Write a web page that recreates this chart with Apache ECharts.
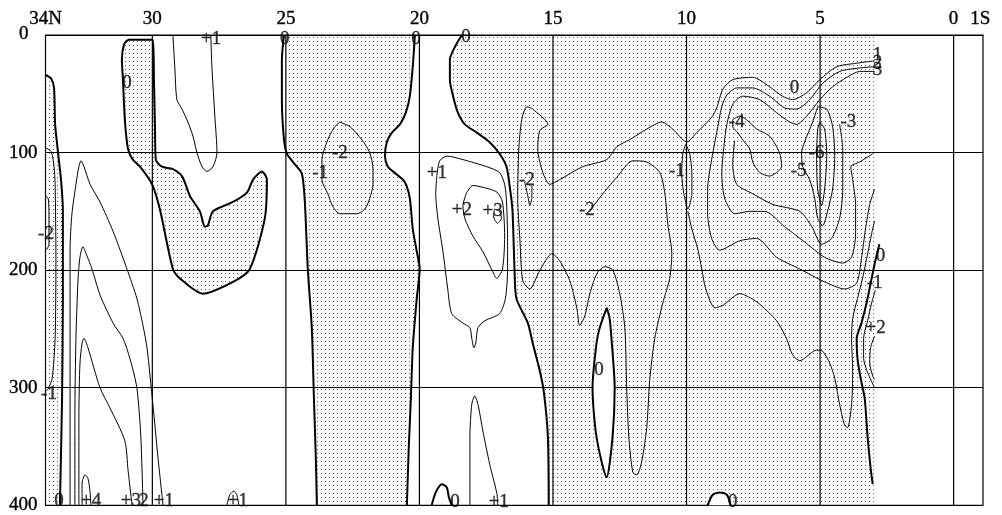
<!DOCTYPE html>
<html><head><meta charset="utf-8">
<script src="https://cdn.jsdelivr.net/npm/echarts@6/dist/echarts.min.js"></script>
<style>html,body{margin:0;padding:0;background:#fff}#c{width:1002px;height:515px}</style>
</head><body><div id="c"></div>
<script>
// axis ticks
const latTicks = [34,30,25,20,15,10,5,0,-1];
const latTickLabels = ['34N','30','25','20','15','10','5','0','1S'];
const latGrid = [30,25,20,15,10,5,0];
const depthTicks = [0,100,200,300,400];

// contour lines: [lat, depth(m)]
const c0_left = [[34.0,34],[33.79,37],[33.68,45],[33.64,76],[33.53,100],[33.42,123],[33.35,148],[33.35,224],[33.38,309],[33.46,400]];
const cm1_left = [[34,96],[33.79,99],[33.68,112],[33.64,127],[33.61,190],[33.64,258],[33.75,292],[33.90,301],[34,303]];
const cm2_left = [[34,137],[33.90,139],[33.87,152],[33.87,178],[33.94,182],[34,183]];
const cp1_left = [[33.08,400],[33.08,325],[33.08,224],[33.08,182],[33.01,152],[32.86,127],[32.75,112],[32.67,107],[32.56,112],[32.33,127],[31.96,142],[31.47,167],[30.95,199],[30.58,224],[30.35,247],[30.20,266],[29.98,314],[29.79,359],[29.60,400]];
const cp2_left = [[32.90,400],[32.90,325],[32.86,258],[32.78,207],[32.71,189],[32.60,180],[32.48,186],[32.26,199],[31.96,221],[31.47,245],[31.10,258],[30.84,275],[30.58,300],[30.43,342],[30.35,400]];
const cp3_left = [[32.75,400],[32.75,325],[32.71,279],[32.63,262],[32.56,258],[32.41,266],[31.96,300],[31.59,317],[31.03,345],[30.91,370],[30.76,400]];
const cp4_left = [[32.63,400],[32.63,381],[32.52,374],[32.41,377],[32.33,389],[32.30,400]];
const c0_31 = [[30.91,4],[29.98,4],[29.94,38],[29.90,80],[29.87,106],[29.64,112],[29.23,114],[28.89,120],[28.59,137],[28.22,150],[28.03,163],[27.92,162],[27.73,150],[26.98,142],[26.46,134],[26.23,123],[25.90,116],[25.71,123],[25.79,156],[26.35,199],[26.98,210],[28.11,220],[28.97,207],[29.23,199],[29.72,148],[30.01,127],[30.46,112],[30.73,106],[30.91,97],[31.03,72],[31.10,38],[31.14,21],[31.06,8],[30.91,4]];
const cp1_top = [[29.23,0],[29.16,27],[29.08,55],[28.89,63],[28.67,74],[28.48,86],[28.33,100],[28.14,112],[27.96,116],[27.73,112],[27.58,100],[27.66,69],[27.77,27],[27.81,0]];
const cp1_bot = [[27.21,400],[27.10,391],[26.95,388],[26.84,391],[26.76,400]];
const c0_25 = [[25.07,0],[25.15,21],[25.15,55],[25.07,89],[24.96,101],[24.66,110],[24.40,118],[24.29,142],[24.18,199],[24.03,249],[23.95,309],[23.88,359],[23.84,400]];
const cm2_22 = [[22.98,74],[22.60,78],[22.16,89],[21.86,100],[21.74,114],[21.74,127],[21.86,139],[22.04,148],[22.34,152],[22.98,152],[23.24,146],[23.43,135],[23.65,123],[23.65,106],[23.43,89],[23.20,79],[22.98,74]];
const c0_20 = [[20.17,0],[20.25,27],[20.36,52],[20.51,66],[20.73,76],[21.03,83],[21.22,91],[21.29,103],[21.18,112],[20.88,118],[20.55,125],[20.36,139],[20.25,165],[20.10,184],[19.99,199],[20.10,224],[20.25,266],[20.32,309],[20.40,351],[20.47,400]];
const c0_18 = [[18.41,0],[18.67,10],[18.86,21],[18.86,38],[18.74,52],[18.56,66],[18.30,76],[17.85,83],[17.38,91],[17.00,101],[16.74,112],[16.63,127],[16.52,148],[16.44,199],[16.37,224],[15.94,245],[15.76,262],[15.49,286],[15.34,304],[15.19,342],[15.16,400]];
const cp1_19 = [[19.35,120],[19.24,107],[18.97,103],[18.37,106],[17.48,112],[17.0,117],[16.81,127],[16.74,142],[16.70,173],[16.70,199],[16.78,224],[17.0,237],[17.55,243],[17.81,249],[17.89,262],[17.96,266],[18.04,258],[18.11,249],[18.37,245],[18.79,237],[18.94,216],[19.12,184],[19.31,156],[19.39,135],[19.35,120]];
const cp2_19 = [[18.23,134],[18.0,128],[17.38,131],[17.08,134],[16.89,142],[16.81,171],[16.89,199],[17.11,207],[17.26,201],[17.63,184],[18.0,171],[18.30,156],[18.37,145],[18.23,134]];
const cp3_19 = [[17.19,148],[17.0,150],[16.93,156],[17.08,160],[17.23,154],[17.19,148]];
const cp1_17b = [[18.11,400],[18.11,342],[18.04,314],[17.93,307],[17.81,314],[17.63,336],[17.37,365],[17.10,390],[17.07,400]];
const c0_19b = [[19.54,400],[19.39,389],[19.16,382],[18.97,385],[18.90,393],[18.79,400]];
const cm2_16 = [[16.06,125],[15.94,137],[15.87,145],[15.79,138],[15.79,128]];
const cm1_long = [[13.62,150],[13.44,144],[13.06,133],[12.61,121],[12.01,107],[11.49,108],[11.00,117],[10.81,135],[10.70,161],[10.55,186],[10.63,207],[10.89,228],[11.19,258],[11.38,294],[11.49,334],[11.68,363],[11.86,374],[12.01,372],[12.16,342],[12.24,300],[12.31,249],[12.50,220],[12.76,200],[13.06,197],[13.36,203],[13.62,220],[13.81,239],[14.0,247],[14.11,232],[14.37,209],[14.75,192],[15.04,186],[15.49,200],[15.87,216],[16.13,209],[16.24,173],[16.32,139],[16.28,97],[16.17,72],[15.98,61],[15.76,63],[15.19,76],[15.49,81],[15.57,97],[15.38,117],[15.12,127],[14.75,123],[13.89,112],[12.99,106],[12.61,95],[12.13,89],[11.49,80],[10.93,74],[10.52,80],[9.99,91],[9.62,83],[9.06,70],[8.87,62],[8.64,46],[8.27,38],[7.52,36],[6.89,44],[6.41,52],[6.03,55],[5.50,49],[5.01,38],[4.38,27],[3.63,24],[2.96,22]];
const c0_13 = [[12.99,232],[13.25,249],[13.37,262],[13.52,300],[13.37,342],[12.99,376],[12.77,342],[12.69,300],[12.81,258],[12.88,241],[12.99,232]];
const cm1_10 = [[10.03,93],[9.88,101],[9.80,118],[9.80,135],[9.95,148],[10.10,135],[10.18,118],[10.14,101],[10.03,93]];
const cm2_ring = [[2.96,27],[3.52,28],[4.27,31],[4.90,41],[5.39,55],[5.88,63],[6.33,62],[6.89,52],[7.52,45],[8.12,45],[8.49,51],[8.68,61],[8.87,83],[9.06,106],[9.21,131],[9.21,152],[9.06,173],[8.76,183],[8.01,175],[7.37,173],[6.63,189],[5.76,199],[4.83,210],[4.08,216],[3.63,211],[3.45,190],[3.30,165],[3.14,144],[2.96,131]];
const cm3_ring = [[2.96,31],[3.52,31],[4.00,36],[4.53,44],[5.01,55],[5.50,69],[5.88,76],[6.14,74],[6.63,66],[7.26,55],[7.90,52],[8.27,59],[8.49,76],[8.61,97],[8.68,118],[8.57,139],[8.20,152],[7.64,150],[7.07,150],[6.33,163],[5.58,176],[4.83,189],[4.15,194],[3.82,189],[3.67,169],[3.67,144],[3.78,123],[3.85,112],[3.52,108],[3.03,101]];
const cm4_ring = [[4.27,76],[4.15,97],[4.15,131],[4.27,156],[4.57,173],[4.94,178],[5.31,163],[5.76,150],[6.78,144],[7.52,135],[8.12,127],[8.27,110],[8.20,90]];
const cm4 = [[8.27,72],[8.01,69],[7.75,72],[7.37,80],[6.89,86],[6.52,100],[6.44,112],[6.63,117],[6.89,120],[7.26,117],[7.52,108],[7.63,97],[7.90,89],[8.08,83],[8.27,78],[8.27,72]];
const cm5 = [[5.09,61],[4.75,63],[4.53,78],[4.45,103],[4.53,131],[4.72,150],[4.90,162],[5.09,156],[5.20,139],[5.39,123],[5.65,112],[5.69,100],[5.58,91],[5.28,74],[5.09,61]];
const cm6 = [[5.01,74],[4.83,80],[4.75,103],[4.83,131],[4.94,145],[5.09,131],[5.13,103],[5.09,80],[5.01,74]];
const cm1_low = [[9.95,150],[9.80,165],[9.58,182],[9.43,199],[9.28,216],[8.94,232],[8.64,230],[8.01,220],[7.37,227],[6.63,243],[6.26,258],[6.03,272],[5.76,277],[5.13,268],[4.90,269],[4.64,279],[4.45,292],[4.27,314],[4.08,332],[3.97,334],[3.82,314],[3.78,286],[3.82,258],[3.78,241],[3.60,224],[3.41,207],[3.22,186],[3.07,169],[2.96,158]];
const c0_east = [[2.78,178],[2.93,192],[3.07,207],[3.26,228],[3.45,245],[3.63,258],[3.60,275],[3.48,292],[3.33,309],[3.22,342],[3.11,368],[3.03,382]];
const cp1_east = [[2.93,217],[3.07,228],[3.22,243],[3.37,258],[3.37,275],[3.22,287],[2.96,300]];
const cp2_east = [[2.96,256],[3.11,266],[3.14,279],[3.03,290],[2.96,293]];
const c0_9b = [[9.21,400],[9.02,391],[8.76,389],[8.49,391],[8.35,400]];

const thickLines = [c0_left,c0_31,c0_25,c0_20,c0_18,c0_19b,c0_13,c0_east,c0_9b];
const thinLines = [cm1_left,cm2_left,cp1_left,cp2_left,cp3_left,cp4_left,cp1_top,cp1_bot,cm2_22,cp1_19,cp2_19,cp3_19,cp1_17b,cm2_16,cm1_long,cm1_10,cm2_ring,cm3_ring,cm4_ring,cm4,cm5,cm6,cm1_low,cp1_east,cp2_east];

// stippled (negative) areas
const shadeLeft = [[34,34]].concat(c0_left, [[34,400]]);
const shade31 = c0_31;
const shadeMid = c0_25.concat(c0_20.slice().reverse());
const shadeEast = c0_18.concat([[2.96,400],[2.96,0]]);
const whiteHoles = [c0_13, c0_9b];

// contour labels [lat, depth, text]
const labels = [
  [30.95,41,'0'],[27.8,3,'+1'],[25.04,3,'0'],[20.13,3,'0'],[18.26,2,'0'],
  [33.98,169,'-2'],[33.87,305,'-1'],[33.49,396,'0'],[32.29,396,'+4'],[30.8,396,'+3'],
  [30.31,396,'2'],[29.57,396,'+1'],[26.8,396,'+1'],[18.67,397,'0'],[17.03,397,'+1'],
  [8.27,397,'0'],[13.28,285,'0'],[22.98,100,'-2'],[23.72,117,'-1'],[19.35,117,'+1'],
  [18.41,149,'+2'],[17.26,150,'+3'],[15.98,123,'-2'],[13.73,149,'-2'],[10.36,116,'-1'],
  [8.12,74,'-4'],[5.96,45,'0'],[3.94,74,'-3'],[5.13,100,'-6'],[5.8,116,'-5'],
  [2.85,17,'1'],[2.85,24,'2'],[2.85,30,'3'],[2.74,188,'0'],[2.96,211,'-1'],[2.92,249,'+2']
];

const FONT = 'Liberation Serif';
const TXT = {fontFamily:FONT, fontSize:19, color:'#000', textBorderColor:'#000', textBorderWidth:0.35};
const pat = document.createElement('canvas');
pat.width = 4; pat.height = 4;
const pg = pat.getContext('2d');
pg.fillStyle = '#555';
pg.fillRect(1,1,1,1);

function polySeries(poly, fill, z) {
  return {type:'custom', coordinateSystem:'cartesian2d', silent:true, z:z, animation:false,
    data:[[poly[0][0], poly[0][1]]],
    renderItem:(p, api) => ({type:'polygon', shape:{points: poly.map(pt => api.coord(pt))}, style:{fill:fill, stroke:null}})};
}
function lineSeries(pts, w) {
  return {type:'line', data:pts, showSymbol:false, symbol:'none', smooth:0.25, silent:true, z:3, animation:false,
    lineStyle:{color:'#000', width:w}};
}

const series = [];
[shadeLeft, shade31, shadeMid, shadeEast].forEach(p => series.push(polySeries(p, {image: pat, repeat:'repeat'}, 1)));
whiteHoles.forEach(p => series.push(polySeries(p, '#fff', 2)));
latGrid.forEach(v => series.push({type:'line', data:[[v,0],[v,400]], showSymbol:false, symbol:'none', silent:true, z:4, animation:false, lineStyle:{color:'#000', width:1.2}}));
thickLines.forEach(l => series.push(lineSeries(l, 2)));
thinLines.forEach(l => series.push(lineSeries(l, 1)));
series.push({type:'scatter', symbolSize:0, silent:true, z:6, animation:false,
  data: labels.map(l => ({value:[l[0], l[1]], label:{formatter: l[2]}})),
  label:Object.assign({show:true, position:'inside'}, TXT)});

const chart = echarts.init(document.getElementById('c'));
chart.setOption({
  animation:false,
  backgroundColor:'#fff',
  grid:{left:45.5, right:19, top:35, bottom:7, show:true, borderColor:'#000', borderWidth:1.2, backgroundColor:'transparent'},
  xAxis:{type:'value', min:-1.1, max:34, inverse:true, position:'top',
    axisLine:{show:false}, axisTick:{show:false}, splitLine:{show:false},
    axisLabel:Object.assign({customValues: latTicks, formatter: v => latTickLabels[latTicks.indexOf(v)] || '', margin:6}, TXT)},
  yAxis:{type:'value', min:0, max:400, interval:100, inverse:true,
    axisLine:{show:false}, axisTick:{show:false},
    splitLine:{show:true, lineStyle:{color:'#000', width:1.2}},
    axisLabel:Object.assign({customValues: depthTicks, margin:8,
      formatter: v => v === 0 ? '{z|0}' : String(v),
      rich:{z:{fontFamily:FONT, fontSize:19, color:'#000', padding:[0,9,2,0]}}}, TXT)},
  series: series
});
</script></body></html>
